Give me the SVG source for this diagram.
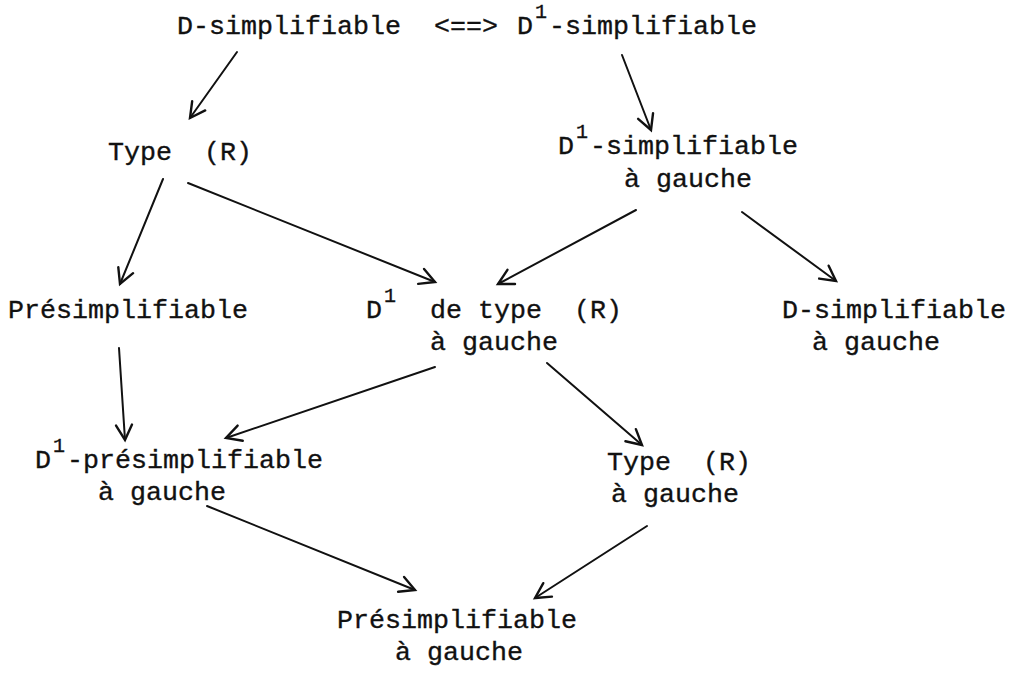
<svg xmlns="http://www.w3.org/2000/svg" width="1009" height="673" viewBox="0 0 1009 673">
<style>
text{font-family:"Liberation Mono","Courier New",monospace;font-size:26.67px;fill:#111;white-space:pre;stroke:#111;stroke-width:0.35;}
.sup{font-size:20px;}
.c{fill:none;stroke:#111;stroke-width:2;stroke-linecap:round;}
</style>
<defs>
<marker id="ah" markerUnits="userSpaceOnUse" markerWidth="30" markerHeight="30" refX="17" refY="10" orient="auto">
<path d="M2,2 L17,10 L2,18" fill="none" stroke="#111" stroke-width="2.4" stroke-linejoin="miter" stroke-linecap="round"/>
</marker>
</defs>
<rect width="1009" height="673" fill="#fff"/>
<g id="n-dsimp"><text x="177" y="34">D-simplifiable</text></g>
<g id="n-equiv"><text x="434" y="34">&lt;==&gt;</text></g>
<g id="n-d1simp"><text x="517" y="34">D</text><text class="sup" x="535" y="18">1</text><text x="549" y="34">-simplifiable</text></g>
<g id="n-typer"><text x="108" y="160" xml:space="preserve">Type  (R)</text></g>
<g id="n-d1simpg"><text x="558" y="154">D</text><text class="sup" x="576" y="138">1</text><text x="590" y="154">-simplifiable</text><text x="624" y="187">à gauche</text></g>
<g id="n-presimp"><text x="8" y="318">Présimplifiable</text></g>
<g id="n-d1typer"><text x="366" y="318">D</text><text class="sup" x="384" y="302">1</text><text x="430" y="318" xml:space="preserve">de type  (R)</text><text x="430" y="350">à gauche</text></g>
<g id="n-dsimpg"><text x="782" y="318">D-simplifiable</text><text x="812" y="350">à gauche</text></g>
<g id="n-d1presimpg"><text x="35" y="468">D</text><text class="sup" x="53" y="452">1</text><text x="67" y="468">-présimplifiable</text><text x="98" y="500">à gauche</text></g>
<g id="n-typerg"><text x="607" y="470" xml:space="preserve">Type  (R)</text><text x="611" y="502">à gauche</text></g>
<g id="n-presimpg"><text x="337" y="628">Présimplifiable</text><text x="395" y="660">à gauche</text></g>
<g id="connectors">
<line class="c" x1="237" y1="52" x2="190" y2="118" marker-end="url(#ah)"/>
<line class="c" x1="622" y1="55" x2="651" y2="130" marker-end="url(#ah)"/>
<line class="c" x1="163" y1="179" x2="120" y2="284" marker-end="url(#ah)"/>
<line class="c" x1="188" y1="183" x2="435" y2="282" marker-end="url(#ah)"/>
<line class="c" x1="636" y1="210" x2="498" y2="284" marker-end="url(#ah)"/>
<line class="c" x1="742" y1="212" x2="836" y2="281" marker-end="url(#ah)"/>
<line class="c" x1="119" y1="348" x2="125" y2="440" marker-end="url(#ah)"/>
<line class="c" x1="435" y1="367" x2="226" y2="438" marker-end="url(#ah)"/>
<line class="c" x1="547" y1="363" x2="642" y2="445" marker-end="url(#ah)"/>
<line class="c" x1="207" y1="506" x2="415" y2="590" marker-end="url(#ah)"/>
<line class="c" x1="647" y1="526" x2="535" y2="598" marker-end="url(#ah)"/>
</g>
</svg>
